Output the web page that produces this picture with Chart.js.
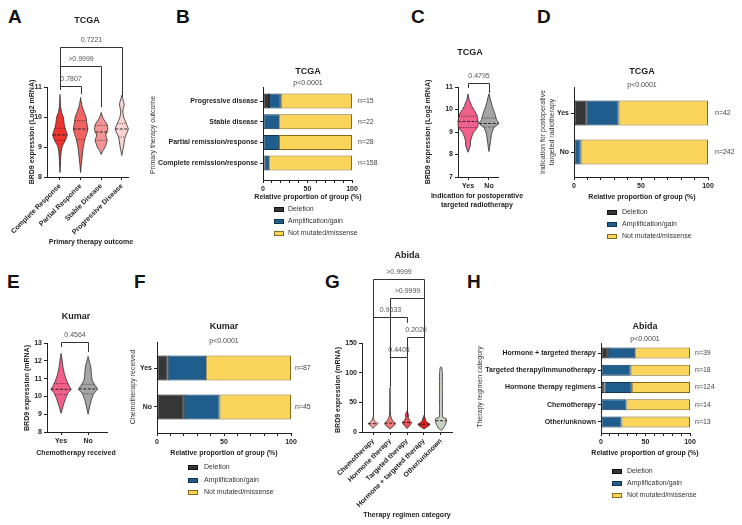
<!DOCTYPE html>
<html><head><meta charset="utf-8">
<script src="https://cdn.jsdelivr.net/npm/chart.js@4.4.0/dist/chart.umd.min.js"></script>
<style>
html,body{margin:0;padding:0;background:#fff;width:742px;height:525px;overflow:hidden;position:relative}
canvas{position:absolute}
.lt{position:absolute;font:bold 19px 'Liberation Sans',Arial,sans-serif;line-height:19px;color:#111}
</style></head><body>
<div class="lt" style="left:8px;top:7px">A</div>
<div class="lt" style="left:176px;top:7px">B</div>
<div class="lt" style="left:411px;top:7px">C</div>
<div class="lt" style="left:537px;top:7px">D</div>
<div class="lt" style="left:7px;top:272px">E</div>
<div class="lt" style="left:134px;top:272px">F</div>
<div class="lt" style="left:325px;top:272px">G</div>
<div class="lt" style="left:467px;top:272px">H</div>
<script>
const FONT = "'Liberation Sans', Arial, Helvetica, sans-serif";

// ================= DATA =================
// Panel A – TCGA, BRD9 (log2 mRNA) by primary therapy outcome; violin profiles [value, half-width]
const catsA = ['Complete Response', 'Partial Response', 'Stable Disease', 'Progressive Disease'];
const violinA_complete = [[8.15,0],[8.4,0.02],[8.7,0.04],[8.9,0.07],[9.05,0.13],[9.22,0.26],[9.4,0.35],[9.55,0.29],[9.7,0.22],[9.85,0.19],[10.0,0.16],[10.15,0.08],[10.35,0.03],[10.55,0.015],[10.75,0]];
const violinA_partial  = [[8.15,0],[8.45,0.04],[8.7,0.08],[9.0,0.13],[9.28,0.22],[9.45,0.3],[9.6,0.35],[9.8,0.3],[10.0,0.26],[10.15,0.18],[10.35,0.08],[10.5,0.03],[10.65,0]];
const violinA_stable   = [[8.75,0],[8.85,0.06],[9.0,0.19],[9.22,0.29],[9.4,0.22],[9.55,0.32],[9.75,0.29],[9.95,0.1],[10.15,0]];
const violinA_progress = [[8.72,0],[9.0,0.08],[9.33,0.16],[9.6,0.32],[9.78,0.22],[10.0,0.09],[10.2,0.05],[10.35,0.1],[10.45,0.11],[10.6,0.05],[10.72,0]];
const medianA = [9.4, 9.6, 9.5, 9.6];
const q1A = [9.22, 9.25, 9.22, 9.33];
const q3A = [9.62, 9.88, 9.72, 9.78];
const pvalsA = ['0.7807', '>0.9999', '0.7221'];

// Panel B – TCGA, copy number by primary therapy outcome (%)
const catsB = ['Progressive disease', 'Stable disease', 'Partial remission/response', 'Complete remission/response'];
const delB = [6.7, 0, 0, 1.9];
const ampB = [13.3, 18.2, 17.9, 5.1];
const notB = [80.0, 81.8, 82.1, 93.0];
const nB = ['n=15', 'n=22', 'n=28', 'n=158'];
const pB = 'p<0.0001';

// Panel C – TCGA, postoperative targeted radiotherapy
const catsC = ['Yes', 'No'];
const violinC_yes = [[8.1,0],[8.3,0.08],[8.42,0.12],[8.6,0.12],[8.94,0.24],[9.24,0.47],[9.46,0.48],[9.76,0.42],[10.13,0.19],[10.35,0.1],[10.42,0.06],[10.69,0]];
const violinC_no  = [[8.13,0],[8.5,0.06],[8.94,0.13],[9.2,0.24],[9.38,0.47],[9.55,0.36],[9.85,0.27],[10.13,0.16],[10.42,0.08],[10.7,0]];
const medianC = [9.47, 9.38];
const q1C = [9.2, 9.22];
const q3C = [9.7, 9.62];
const pvalsC = ['0.4795'];

// Panel D – TCGA, copy number by radiotherapy indication (%)
const catsD = ['Yes', 'No'];
const delD = [9.5, 0];
const ampD = [23.8, 5.0];
const notD = [66.7, 95.0];
const nD = ['n=42', 'n=242'];
const pD = 'p<0.0001';

// Panel E – Kumar, chemotherapy received
const catsE = ['Yes', 'No'];
const violinE_yes = [[9.05,0],[9.42,0.07],[9.8,0.15],[10.17,0.25],[10.4,0.37],[10.55,0.31],[10.92,0.2],[11.3,0.12],[11.67,0.07],[12.04,0.04],[12.42,0]];
const violinE_no  = [[9.0,0],[9.42,0.06],[9.8,0.12],[10.17,0.22],[10.4,0.35],[10.64,0.25],[10.92,0.15],[11.3,0.12],[11.67,0.1],[12.0,0.04],[12.25,0]];
const medianE = [10.4, 10.42];
const q1E = [10.1, 10.15];
const q3E = [10.72, 10.68];
const pvalsE = ['0.4564'];

// Panel F – Kumar, copy number by chemotherapy (%)
const catsF = ['Yes', 'No'];
const delF = [8.0, 20.0];
const ampF = [28.7, 26.7];
const notF = [63.3, 53.3];
const nF = ['n=87', 'n=45'];
const pF = 'p<0.0001';

// Panel G – Abida, BRD9 (mRNA) by therapy regimen
const catsG = ['Chemotherapy', 'Hormone therapy', 'Targeted therapy', 'Hormone + targeted therapy', 'Other/unknown'];
const violinG_chemo = [[6,0],[9,0.08],[12,0.2],[14,0.28],[16,0.2],[19,0.08],[23,0.03],[25,0]];
const violinG_horm  = [[5,0],[8,0.12],[12,0.28],[15,0.31],[18,0.2],[22,0.1],[28,0.04],[36,0.025],[50,0.015],[75,0]];
const violinG_targ  = [[6,0],[9,0.1],[13,0.22],[16,0.27],[20,0.15],[24,0.08],[28,0.1],[31,0.07],[35,0]];
const violinG_ht    = [[5,0],[8,0.15],[11,0.3],[13,0.35],[15,0.25],[18,0.12],[22,0.08],[26,0.03],[28,0]];
const violinG_other = [[3,0],[5,0.1],[9,0.2],[15,0.3],[20,0.33],[23,0.3],[25,0.1],[40,0.09],[70,0.085],[100,0.08],[108,0.05],[110,0]];
const medianG = [14, 15, 16, 13, 19];
const pvalsG = ['>0.9999', '>0.9999', '0.9633', '0.2020', '0.4405'];

// Panel H – Abida, copy number by therapy regimen (%)
const catsH = ['Hormone + targeted therapy', 'Targeted therapy/immunotherapy', 'Hormone therapy regimens', 'Chemotherapy', 'Other/unknown'];
const delH = [7.7, 0, 4.0, 0, 0];
const ampH = [30.8, 33.3, 30.6, 28.6, 23.1];
const notH = [61.5, 66.7, 65.4, 71.4, 76.9];
const nH = ['n=39', 'n=18', 'n=124', 'n=14', 'n=13'];
const pH = 'p<0.0001';

const pctTicks = [0, 10, 20, 30, 40, 50, 60, 70, 80, 90, 100];
const pctLabels = [0, 50, 100];
const seriesNames = ['Deletion', 'Amplification/gain', 'Not mutated/missense'];

// ================= HELPERS =================
const COL = {del:'#363636', delB:'#111111', amp:'#1f5d8c', ampB:'#10344f', not:'#fbd45a', notB:'#86691b'};
const AX = '#222222';

function canvasAt(box) {
  const c = document.createElement('canvas');
  c.width = box.w; c.height = box.h;
  c.style.left = box.x + 'px'; c.style.top = box.y + 'px';
  c.style.width = box.w + 'px'; c.style.height = box.h + 'px';
  document.body.appendChild(c);
  return c;
}
function widthAt(prof, v) {
  for (let k = 0; k < prof.length - 1; k++) {
    const [y0, w0] = prof[k], [y1, w1] = prof[k + 1];
    if (v >= y0 && v <= y1) return w0 + (w1 - w0) * (v - y0) / (y1 - y0);
  }
  return 0;
}
function txt(ctx, s, x, y, o) {
  o = o || {};
  ctx.save();
  ctx.font = (o.bold ? 'bold ' : '') + (o.size || 7) + 'px ' + FONT;
  ctx.fillStyle = o.color || '#1e1e1e';
  ctx.textAlign = o.align || 'center';
  ctx.textBaseline = 'middle';
  ctx.translate(x, y);
  if (o.rot) ctx.rotate(o.rot * Math.PI / 180);
  ctx.fillText(s, 0, 0);
  ctx.restore();
}
function makeDeco(box, d) {
  return {
    id: 'deco',
    afterDraw(chart) {
      const ctx = chart.ctx;
      const X = v => v - box.x, Y = v => v - box.y;
      (d.texts || []).forEach(t => txt(ctx, t.s, X(t.x), Y(t.y), t));
      if (d.brackets) {
        const xs = chart.scales.x, ys = chart.scales.y;
        ctx.save();
        ctx.strokeStyle = '#333'; ctx.lineWidth = 1;
        d.brackets.forEach((b, k) => {
          const x1 = Math.round(xs.getPixelForValue(b.a)) + 0.5, x2 = Math.round(xs.getPixelForValue(b.b)) + 0.5;
          const y = Math.round(ys.getPixelForValue(b.y)) + 0.5;
          const l1 = ys.getPixelForValue(b.la), l2 = ys.getPixelForValue(b.lb);
          ctx.beginPath(); ctx.moveTo(x1, l1); ctx.lineTo(x1, y); ctx.lineTo(x2, y); ctx.lineTo(x2, l2); ctx.stroke();
          txt(ctx, d.pvals[k], (x1 + x2) / 2, y - 7, {color: '#555'});
        });
        ctx.restore();
      }
      if (d.nLabels) {
        const ys = chart.scales.y;
        d.nLabels.forEach((n, i) => txt(ctx, n, X(d.nx), ys.getPixelForValue(i), {align: 'left', color: '#444'}));
      }
      if (d.legend) {
        const ds = chart.data.datasets;
        ctx.save();
        ds.forEach((s, k) => {
          const yy = Y(d.legend.ys[k]);
          const bx = X(d.legend.bx);
          ctx.fillStyle = s.backgroundColor; ctx.strokeStyle = s.borderColor; ctx.lineWidth = 1;
          ctx.fillRect(bx, Math.round(yy - 2.5), 10, 5);
          ctx.strokeRect(bx + 0.5, Math.round(yy - 2.5) + 0.5, 9, 4);
          txt(ctx, seriesNames[k], X(d.legend.tx), yy, {align: 'left', color: '#333'});
        });
        ctx.restore();
      }
    }
  };
}
function axisBase() {
  return {
    offset: false,
    border: {display: true, color: AX, width: 1},
    grid: {display: true, offset: false, drawOnChartArea: false, drawTicks: true, tickLength: 3, color: AX, tickColor: AX},
  };
}
const tickFont = {family: FONT, size: 7, weight: 'bold'};

function violinChart(box, plot, c) {
  const datasets = [];
  c.profiles.forEach((prof, i) => {
    const right = prof.map(p => ({x: i + p[1], y: p[0]}));
    const left = prof.slice().reverse().map(p => ({x: i - p[1], y: p[0]}));
    datasets.push({data: right.concat(left), backgroundColor: c.colors[i], borderColor: '#2a2a2a', order: 2,
      borderWidth: 0.8, fill: 'shape', pointRadius: 0, tension: 0.2, clip: false});
  });
  c.profiles.forEach((prof, i) => {
    const stats = [[c.median[i], [3, 1.5], 0.9]];
    if (c.q1) stats.push([c.q1[i], [1, 1.3], 0.7]);
    if (c.q3) stats.push([c.q3[i], [1, 1.3], 0.7]);
    stats.forEach(([v, dash, lw]) => {
      const w = widthAt(prof, v);
      datasets.push({data: [{x: i - w, y: v}, {x: i + w, y: v}], borderColor: '#1a1a1a', borderWidth: lw, order: 1,
        borderDash: dash, fill: false, pointRadius: 0, clip: false});
    });
  });
  return new Chart(canvasAt(box), {
    type: 'line',
    data: {datasets},
    options: {
      responsive: false, animation: false, devicePixelRatio: 1,
      layout: {padding: {left: 0, top: plot.t - box.y, right: box.x + box.w - plot.r, bottom: 0}},
      plugins: {legend: {display: false}, tooltip: {enabled: false}},
      scales: {
        x: Object.assign(axisBase(), {
          type: 'linear', min: c.xmin, max: c.xmax, bounds: 'data',
          afterBuildTicks: s => { s.ticks = c.cats.map((_, i) => ({value: i})); },
          ticks: {font: tickFont, color: '#1e1e1e', autoSkip: false, maxRotation: c.rot, minRotation: c.rot, padding: 2,
            callback: v => c.cats[v]},
          afterFit: s => { s.height = box.y + box.h - plot.b; s.paddingLeft = 0; s.paddingRight = 0; }
        }),
        y: Object.assign(axisBase(), {
          type: 'linear', min: c.ymin, max: c.ymax, bounds: 'data',
          ticks: {font: tickFont, color: '#1e1e1e', stepSize: c.ystep, padding: 2},
          afterFit: s => { s.width = plot.l - box.x; s.paddingTop = 0; s.paddingBottom = 0; }
        })
      }
    },
    plugins: [makeDeco(box, c.deco)]
  });
}

function barChart(box, plot, c) {
  const pts = arr => arr.map((v, i) => ({x: v, y: i}));
  const ds = [
    {label: seriesNames[0], data: pts(c.del), backgroundColor: COL.del, borderColor: COL.delB},
    {label: seriesNames[1], data: pts(c.amp), backgroundColor: COL.amp, borderColor: COL.ampB},
    {label: seriesNames[2], data: pts(c.not), backgroundColor: COL.not, borderColor: COL.notB}
  ].map(d => Object.assign(d, {borderWidth: 1, borderSkipped: false, barThickness: c.thick, inflateAmount: 0}));
  return new Chart(canvasAt(box), {
    type: 'bar',
    data: {datasets: ds},
    options: {
      indexAxis: 'y', responsive: false, animation: false, devicePixelRatio: 1,
      layout: {padding: {left: 0, top: plot.t - box.y, right: box.x + box.w - plot.r, bottom: 0}},
      plugins: {legend: {display: false}, tooltip: {enabled: false}},
      scales: {
        x: Object.assign(axisBase(), {
          type: 'linear', stacked: true, min: 0, max: 100, bounds: 'data',
          afterBuildTicks: s => { s.ticks = pctTicks.map(v => ({value: v})); },
          ticks: {font: tickFont, color: '#1e1e1e', autoSkip: false, maxRotation: 0, padding: 2,
            callback: v => (pctLabels.includes(v) ? String(v) : '')},
          afterFit: s => { s.height = box.y + box.h - plot.b; s.paddingLeft = 0; s.paddingRight = 0; }
        }),
        y: Object.assign(axisBase(), {
          type: 'linear', stacked: true, reverse: true, min: c.ymin, max: c.ymax, bounds: 'data',
          afterBuildTicks: s => { s.ticks = c.cats.map((_, i) => ({value: i})); },
          ticks: {font: tickFont, color: '#1e1e1e', autoSkip: false, padding: 2, callback: v => c.cats[v]},
          afterFit: s => { s.width = plot.l - box.x; s.paddingTop = 0; s.paddingBottom = 0; }
        })
      }
    },
    plugins: [makeDeco(box, c.deco)]
  });
}

// ================= PANELS =================
// A
violinChart({x: 0, y: 0, w: 150, h: 260}, {l: 47, t: 87, r: 128, b: 177}, {
  cats: catsA, profiles: [violinA_complete, violinA_partial, violinA_stable, violinA_progress],
  colors: ['#ef3430', '#f26464', '#f49494', '#fbd3d3'], median: medianA, q1: q1A, q3: q3A,
  xmin: -0.63, xmax: 3.3, ymin: 8, ymax: 11, ystep: 1, rot: 45,
  deco: {
    texts: [
      {s: 'TCGA', x: 87, y: 21, size: 9, bold: true},
      {s: 'Primary therapy outcome', x: 91, y: 242, bold: true},
      {s: 'BRD9 expression (Log2 mRNA)', x: 32, y: 132, bold: true, rot: -90}
    ],
    brackets: [
      {a: 0, b: 1, y: 11.03, la: 10.9, lb: 10.77},
      {a: 0, b: 2, y: 11.7, la: 10.9, lb: 10.33},
      {a: 0, b: 3, y: 12.33, la: 10.9, lb: 10.67}
    ],
    pvals: pvalsA
  }
});

// B
barChart({x: 140, y: 0, w: 240, h: 260}, {l: 263, t: 87, r: 352, b: 180}, {
  cats: catsB, del: delB, amp: ampB, not: notB, thick: 15, ymin: -0.68, ymax: 3.82,
  deco: {
    texts: [
      {s: 'TCGA', x: 308, y: 72, size: 9, bold: true},
      {s: pB, x: 308, y: 83, color: '#444'},
      {s: 'Relative proportion of group (%)', x: 308, y: 197, bold: true},
      {s: 'Primary therapy outcome', x: 153, y: 135, rot: -90, color: '#333'}
    ],
    nLabels: nB, nx: 358,
    legend: {bx: 274, tx: 288, ys: [209, 221, 233]}
  }
});

// C
violinChart({x: 380, y: 0, w: 150, h: 260}, {l: 458, t: 87, r: 498, b: 177}, {
  cats: catsC, profiles: [violinC_yes, violinC_no], colors: ['#f0608b', '#a5a5a5'],
  median: medianC, q1: q1C, q3: q3C, xmin: -0.48, xmax: 1.43, ymin: 7, ymax: 11, ystep: 1, rot: 0,
  deco: {
    texts: [
      {s: 'TCGA', x: 470, y: 53, size: 9, bold: true},
      {s: 'BRD9 expression (Log2 mRNA)', x: 428, y: 132, bold: true, rot: -90},
      {s: 'Indication for postoperative', x: 477, y: 196, bold: true},
      {s: 'targeted radiotherapy', x: 477, y: 205, bold: true}
    ],
    brackets: [{a: 0, b: 1, y: 11.18, la: 10.96, lb: 10.73}],
    pvals: pvalsC
  }
});

// D
barChart({x: 530, y: 0, w: 212, h: 260}, {l: 574, t: 87, r: 708, b: 177}, {
  cats: catsD, del: delD, amp: ampD, not: notD, thick: 25, ymin: -0.67, ymax: 1.64,
  deco: {
    texts: [
      {s: 'TCGA', x: 642, y: 72, size: 9, bold: true},
      {s: pD, x: 642, y: 85, color: '#444'},
      {s: 'Relative proportion of group (%)', x: 642, y: 197, bold: true},
      {s: 'Indication for postoperative', x: 543, y: 132, rot: -90, color: '#333'},
      {s: 'targeted radiotherapy', x: 552, y: 132, rot: -90, color: '#333'}
    ],
    nLabels: nD, nx: 715,
    legend: {bx: 607, tx: 622, ys: [212, 224, 236]}
  }
});

// E
violinChart({x: 0, y: 260, w: 130, h: 265}, {l: 47, t: 343, r: 107, b: 432}, {
  cats: catsE, profiles: [violinE_yes, violinE_no], colors: ['#f0608b', '#a5a5a5'],
  median: medianE, q1: q1E, q3: q3E, xmin: -0.52, xmax: 1.7, ymin: 8, ymax: 13, ystep: 1, rot: 0,
  deco: {
    texts: [
      {s: 'Kumar', x: 76, y: 317, size: 9, bold: true},
      {s: 'BRD9 expression (mRNA)', x: 27, y: 388, bold: true, rot: -90},
      {s: 'Chemotherapy received', x: 76, y: 453, bold: true}
    ],
    brackets: [{a: 0, b: 1, y: 13.06, la: 12.78, lb: 12.5}],
    pvals: pvalsE
  }
});

// F
barChart({x: 125, y: 260, w: 190, h: 265}, {l: 157, t: 342, r: 291, b: 433}, {
  cats: catsF, del: delF, amp: ampF, not: notF, thick: 25, ymin: -0.67, ymax: 1.67,
  deco: {
    texts: [
      {s: 'Kumar', x: 224, y: 327, size: 9, bold: true},
      {s: pF, x: 224, y: 341, color: '#444'},
      {s: 'Relative proportion of group (%)', x: 224, y: 453, bold: true},
      {s: 'Chemotherapy received', x: 133, y: 387, rot: -90, color: '#333'}
    ],
    nLabels: nF, nx: 295,
    legend: {bx: 188, tx: 204, ys: [467, 480, 492]}
  }
});

// G
violinChart({x: 315, y: 245, w: 160, h: 280}, {l: 362, t: 343, r: 452, b: 432}, {
  cats: catsG, profiles: [violinG_chemo, violinG_horm, violinG_targ, violinG_ht, violinG_other],
  colors: ['#f5a3a3', '#f07a7a', '#ec5252', '#e31f1f', '#c9d1c3'],
  median: medianG, xmin: -0.65, xmax: 4.65, ymin: 0, ymax: 150, ystep: 50, rot: 45,
  deco: {
    texts: [
      {s: 'Abida', x: 407, y: 256, size: 9, bold: true},
      {s: 'BRD9 expression (mRNA)', x: 338, y: 390, bold: true, rot: -90},
      {s: 'Therapy regimen category', x: 407, y: 515, bold: true}
    ],
    brackets: [
      {a: 0, b: 3, y: 258, la: 25, lb: 25},
      {a: 1, b: 3, y: 226, la: 76, lb: 25},
      {a: 0, b: 2, y: 194, la: 25, lb: 184},
      {a: 2, b: 3, y: 160, la: 126, lb: 25},
      {a: 1, b: 2, y: 126, la: 76, lb: 25}
    ],
    pvals: pvalsG
  }
});

// H
barChart({x: 470, y: 260, w: 272, h: 265}, {l: 601, t: 343, r: 690, b: 433}, {
  cats: catsH, del: delH, amp: ampH, not: notH, thick: 11, ymin: -0.58, ymax: 4.64,
  deco: {
    texts: [
      {s: 'Abida', x: 645, y: 327, size: 9, bold: true},
      {s: pH, x: 645, y: 339, color: '#444'},
      {s: 'Relative proportion of group (%)', x: 645, y: 453, bold: true},
      {s: 'Therapy regimen category', x: 480, y: 387, rot: -90, color: '#333'}
    ],
    nLabels: nH, nx: 695,
    legend: {bx: 612, tx: 627, ys: [471, 483, 495]}
  }
});
</script>
</body></html>
